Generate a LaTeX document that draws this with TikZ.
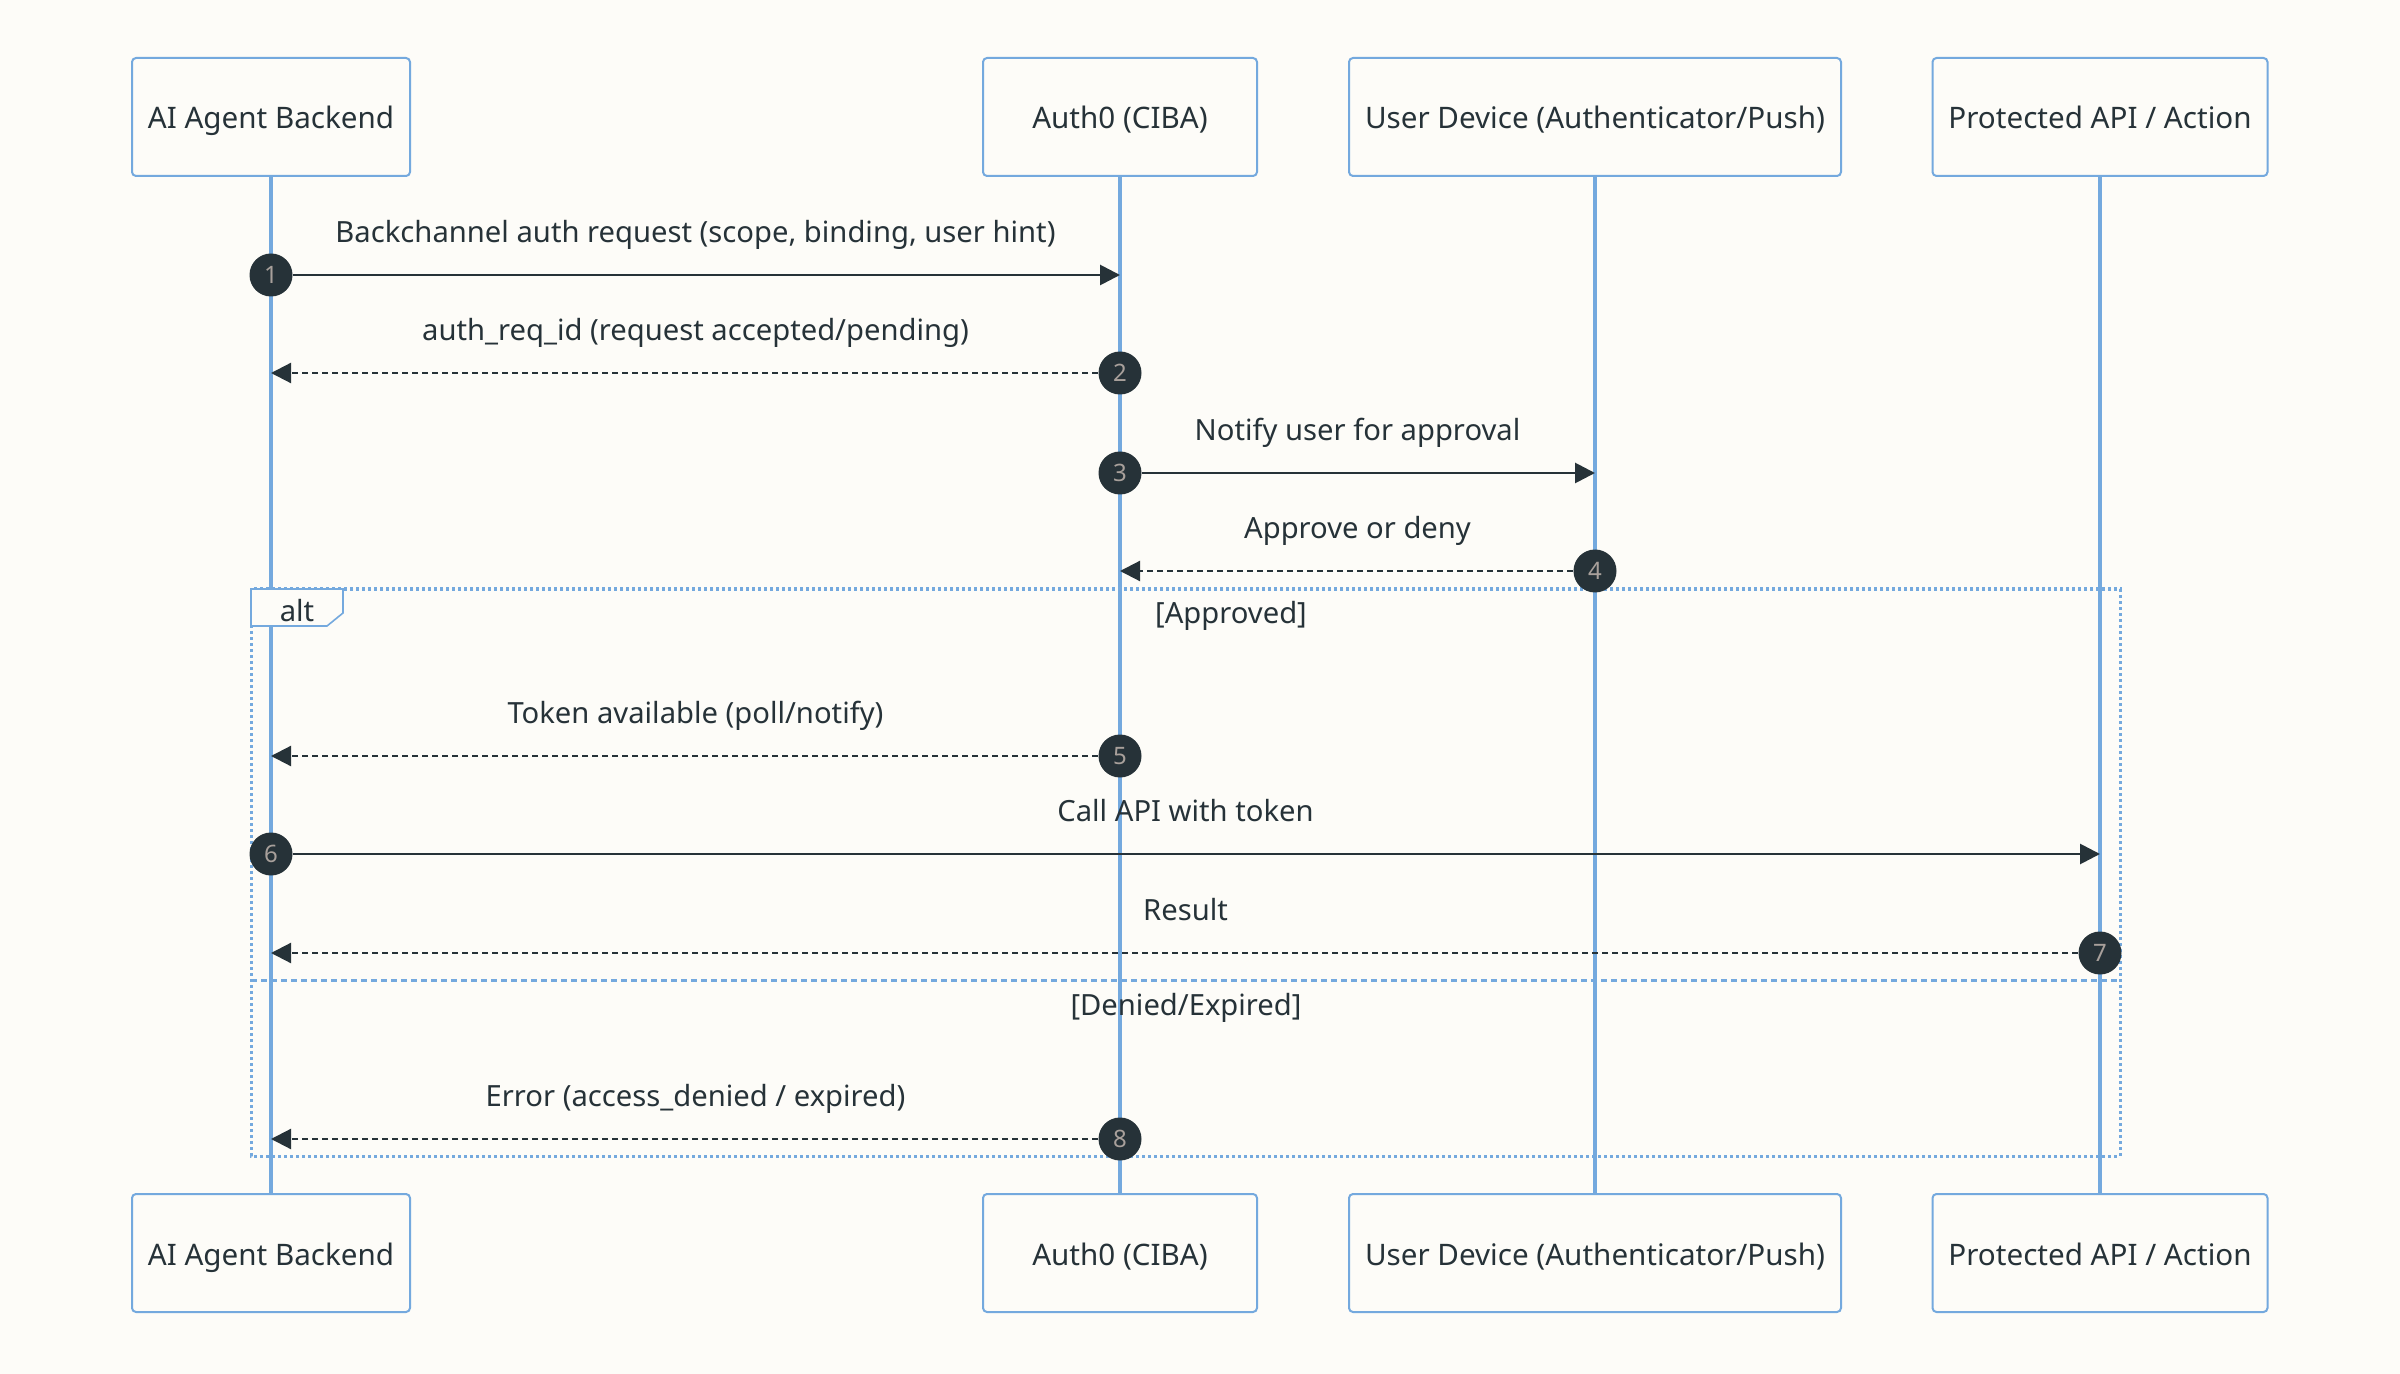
\documentclass[tikz,border=0pt]{standalone}
\usepackage{fontspec}
\setmainfont{Noto Sans}
\usetikzlibrary{arrows.meta}

\definecolor{paper}{HTML}{FDFCF8}
\definecolor{ink}{HTML}{263238}
\definecolor{lane}{HTML}{74A9DE}
\definecolor{numgrey}{HTML}{A8A09B}

\tikzset{
  actor/.style={draw=lane, line width=1pt, rounded corners=2pt, fill=paper,
    minimum height=59pt, text=ink, text height=14pt, text depth=2pt,
    font=\fontsize{14.8}{17}\selectfont},
  lifeline/.style={draw=lane, line width=1.6pt},
  stepdot/.style={circle, fill=ink, minimum size=21.5pt, inner sep=0pt,
    text=numgrey, font=\fontsize{12}{13}\selectfont},
  msg/.style={draw=ink, line width=1.4pt, -{Triangle[length=10pt,width=10pt]}},
  reply/.style={msg, line width=1.1pt, dash pattern=on 3pt off 2pt},
  msglabel/.style={text=ink, text height=11pt, text depth=3.5pt,
    font=\fontsize{14.6}{17}\selectfont},
  altframe/.style={draw=lane, line width=1.5pt, dash pattern=on 1.5pt off 1.5pt},
  altsplit/.style={draw=lane, line width=1.5pt, dash pattern=on 3pt off 2pt}
}

\begin{document}
\begin{tikzpicture}[x=0.5pt,y=-0.5pt]
  \fill[paper] (0,0) rectangle (2400,1374);
  \useasboundingbox (0,0) rectangle (2400,1374);

  % participants, top and bottom, with their lifelines
  \foreach \id/\x/\w/\name in {agent/271/278/{AI Agent Backend},
      auth/1120/274/{Auth0 (CIBA)},
      device/1595/492/{User Device (Authenticator/Push)},
      api/2100/335/{Protected API / Action}}{
    \node[actor, minimum width=\w*0.5pt] (\id) at (\x,117) {\name};
    \node[actor, minimum width=\w*0.5pt] (\id-b) at (\x,1253) {\name};
    \draw[lifeline] (\id) -- (\id-b);
  }

  % alt block
  \draw[altframe] (251,589) rectangle (2120,1156);
  \draw[altsplit] (251,980) -- (2120,980);
  \filldraw[fill=paper, draw=lane, line width=0.8pt]
    (251,589) -- (343,589) -- (343,613) -- (327,626) -- (251,626) -- cycle;
  \node[msglabel] (alt) at (297,614) {alt};
  \node[msglabel] (approved) at (1231,616) {[Approved]};
  \node[msglabel] (denied) at (1186,1008) {[Denied/Expired]};

  % messages
  \foreach \n/\src/\dst/\y/\ls/\txt in {
      1/271/1120/275/msg/{Backchannel auth request (scope, binding, user hint)},
      2/1120/271/373/reply/{auth\_req\_id (request accepted/pending)},
      3/1120/1595/473/msg/{Notify user for approval},
      4/1595/1120/571/reply/{Approve or deny},
      5/1120/271/756/reply/{Token available (poll/notify)},
      6/271/2100/854/msg/{Call API with token},
      7/2100/271/953/reply/{Result},
      8/1120/271/1139/reply/{Error (access\_denied / expired)}}{
    \node[stepdot] (s\n) at (\src,\y) {\n};
    \coordinate (e\n) at (\dst,\y);
    \draw[\ls] (s\n) -- (e\n);
    \node[msglabel] (m\n) at ({(\src+\dst)/2},\y-40) {\txt};
  }
\end{tikzpicture}
\end{document}
